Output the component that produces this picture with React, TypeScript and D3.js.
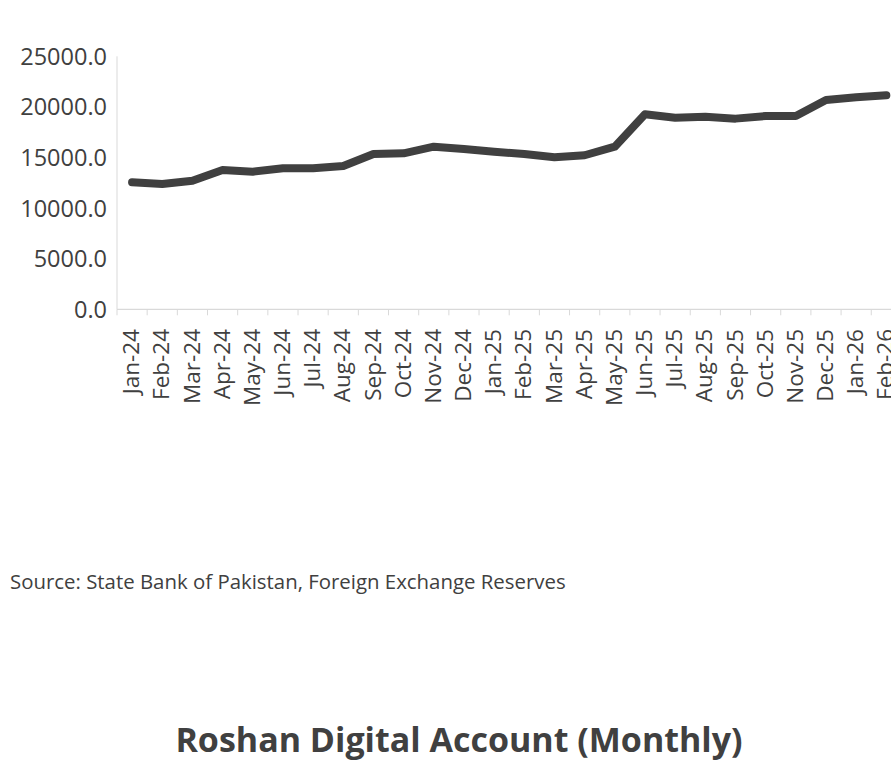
import React from "react";
import * as d3 from "d3";

const months = [
  "Jan-24","Feb-24","Mar-24","Apr-24","May-24","Jun-24","Jul-24","Aug-24","Sep-24","Oct-24","Nov-24","Dec-24",
  "Jan-25","Feb-25","Mar-25","Apr-25","May-25","Jun-25","Jul-25","Aug-25","Sep-25","Oct-25","Nov-25","Dec-25",
  "Jan-26","Feb-26",
];
const values = [
  12550, 12380, 12700, 13760, 13600, 13930, 13930, 14160, 15350, 15410, 16070, 15840,
  15570, 15350, 15020, 15220, 16070, 19270, 18930, 19030, 18840, 19100, 19100, 20680,
  20950, 21150,
];
const yTicks = [0, 5000, 10000, 15000, 20000, 25000];
const sourceText = "Source: State Bank of Pakistan, Foreign Exchange Reserves";
const titleText = "Roshan Digital Account (Monthly)";

export default function App() {
  const W = 891, H = 775;
  const left = 117, step = 30.17;
  const x = d3.scaleBand<string>().domain(months).range([left, left + step * months.length]).padding(0);
  const y = d3.scaleLinear().domain([0, 25000]).range([309.3, 56.3]);
  const line = d3.line<number>()
    .x((_, i) => (x(months[i]) as number) + x.bandwidth() / 2)
    .y((d) => y(d));
  const axisColor = "#d9d9d9";
  const textColor = "#404040";
  const font = "'Open Sans', 'Noto Sans', sans-serif";
  return (
    <svg width={W} height={H} style={{ position: "absolute", left: 0, top: 0, background: "#fff" }} fontFamily={font}>
      <line x1={left} x2={left} y1={y(25000)} y2={y(0)} stroke={axisColor} strokeWidth={1} />
      <line x1={left} x2={W} y1={y(0)} y2={y(0)} stroke={axisColor} strokeWidth={1.2} />
      {months.map((m) => (
        <line key={"t" + m} x1={(x(m) as number)} x2={(x(m) as number)} y1={y(0)} y2={y(0) + 6} stroke={axisColor} strokeWidth={1} />
      ))}
      {yTicks.map((t) => (
        <text key={"y" + t} x={107} y={y(t)} dy="0.36em" textAnchor="end" fontSize={23.5} fill={textColor}>
          {t.toFixed(1)}
        </text>
      ))}
      {months.map((m) => {
        const cx = (x(m) as number) + x.bandwidth() / 2;
        return (
          <text key={"x" + m} transform={`translate(${cx - 1},329) rotate(-90)`} textAnchor="end" dy="0.36em" fontSize={22.5} fill={textColor}>
            {m}
          </text>
        );
      })}
      <path d={line(values) as string} fill="none" stroke="#404040" strokeWidth={8} strokeLinejoin="round" strokeLinecap="round" />
      <text x={10} y={589} fontSize={20.4} fill={textColor}>{sourceText}</text>
      <text x={459} y={752} textAnchor="middle" fontSize={34} fontWeight="bold" fill={textColor}>{titleText}</text>
    </svg>
  );
}
